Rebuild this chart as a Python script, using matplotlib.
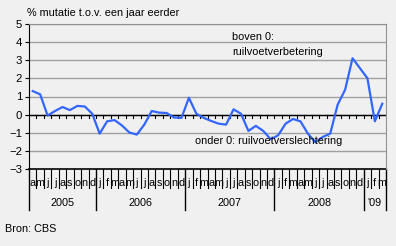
import matplotlib.pyplot as plt
import matplotlib.transforms as mtransforms

plt.rcParams['font.family'] = ['Liberation Sans', 'DejaVu Sans']

# maandelijkse ruilvoet, april 2005 t/m maart 2009
months = list("amjjasond") + list("jfmamjjasond") * 3 + list("jfm")
values = [1.30, 1.12, -0.05, 0.20, 0.42, 0.25, 0.48, 0.45, 0.05,
          -1.05, -0.37, -0.30, -0.60, -0.99, -1.10, -0.55, 0.20, 0.11, 0.09, -0.16, -0.18,
          0.93, 0.05, -0.18, -0.35, -0.50, -0.55, 0.29, 0.05, -0.90, -0.62, -0.90, -1.36,
          -1.14, -0.50, -0.24, -0.37, -1.05, -1.52, -1.23, -1.05, 0.55, 1.37, 3.11, 2.56, 2.01,
          -0.37, 0.60]
years = ["2005", "2006", "2007", "2008", "'09"]
year_starts = [0, 9, 21, 33, 45, 48]

bg = '#f0f0f0'
fig = plt.figure(figsize=(3.96, 2.46), dpi=100, facecolor=bg)
ax = fig.add_axes([29 / 396, 1 - 169 / 246, 357 / 396, 145 / 246])
ax.set_facecolor(bg)

x = [i + 0.5 for i in range(len(values))]
ax.plot(x, values, color='#3366ff', lw=1.6, zorder=3)

ax.set_xlim(0, 48)
ax.set_ylim(-3, 5)
ax.set_yticks(range(-3, 6))
ax.set_xticks([])
for v in range(-2, 6):
    ax.axhline(v, color='#a0a0a0', lw=1, zorder=1)
ax.axhline(0, color='black', lw=1, zorder=2)
ax.axhline(-3, color='black', lw=1.2, zorder=2, clip_on=False)
for i in range(1, 48):
    ax.plot([i, i], [0, -0.2], color='black', lw=0.8, zorder=2)

for s in ['top', 'right']:
    ax.spines[s].set_color('#909090')
ax.spines['bottom'].set_visible(False)
ax.spines['left'].set_color('black')
ax.tick_params(axis='y', length=3, labelsize=8.2, pad=2)

# maand- en jaarcategorieën onder de as
tr = mtransforms.blended_transform_factory(ax.transData, ax.transAxes)
for i in range(49):
    if i in year_starts:
        ax.plot([i, i], [0, -0.28], color='black', lw=1, transform=tr, clip_on=False)
    else:
        ax.plot([i, i], [0, -0.13], color='black', lw=0.8, transform=tr, clip_on=False)
for i, m in enumerate(months):
    ax.text(i + 0.5, -0.097, m, transform=tr, ha='center', va='center', fontsize=7.8)
for k, y in enumerate(years):
    mid = (year_starts[k] + year_starts[k + 1]) / 2
    ax.text(mid, -0.237, y, transform=tr, ha='center', va='center', fontsize=7.8)

fig.text(27 / 396, 1 - 13 / 246, '% mutatie t.o.v. een jaar eerder', fontsize=7.8, va='center')
fig.text(232 / 396, 1 - 37 / 246, 'boven 0:', fontsize=7.8, va='center')
fig.text(232 / 396, 1 - 52 / 246, 'ruilvoetverbetering', fontsize=7.8, va='center')
fig.text(195 / 396, 1 - 141 / 246, 'onder 0: ruilvoetverslechtering', fontsize=7.8, va='center')
fig.text(5 / 396, 1 - 229 / 246, 'Bron: CBS', fontsize=7.8, va='center')

fig.savefig('out.png', dpi=100, facecolor=bg)
